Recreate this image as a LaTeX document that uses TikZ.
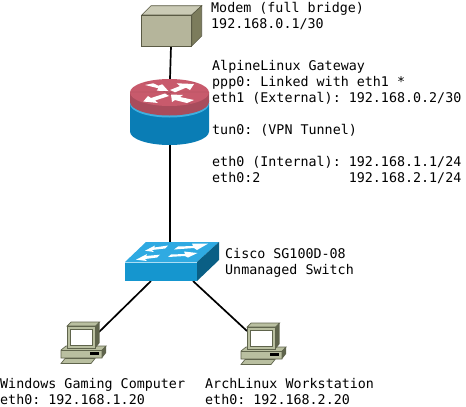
\documentclass[tikz,border=0pt]{standalone}
\usepackage{fontspec}
\setmonofont{DejaVu Sans Mono}
\usetikzlibrary{calc}
\definecolor{mfront}{HTML}{B5B59B}
\definecolor{mtop}{HTML}{CACAB5}
\definecolor{mside}{HTML}{7C7C5C}
\definecolor{medge}{HTML}{5A5A44}
\definecolor{rtop}{HTML}{C85A6C}
\definecolor{rside}{HTML}{A84C5C}
\definecolor{rblue}{HTML}{0A7DB5}
\definecolor{rlight}{HTML}{3FB0E0}
\definecolor{sfront}{HTML}{1596CF}
\definecolor{stop}{HTML}{2FAAE2}
\definecolor{sside}{HTML}{0A5F85}
\definecolor{pcbody}{HTML}{B9BFA0}
\definecolor{pcdark}{HTML}{5F644C}
\tikzset{
 lbl/.style={inner sep=0pt,anchor=north west,align=left,font=\ttfamily\fontsize{13.35}{16}\selectfont},
 link/.style={line width=1.7pt,black},
 anchorbox/.style={inner sep=0pt,minimum width=#1},
 pcline/.style={draw=pcdark,line width=.7pt},
 pc/.pic={
  \fill[pcbody,pcline] (61,350) -- (66,346) -- (106,346) -- (102,350) -- (102,358) -- (61,358) -- cycle;
  \fill[pcdark] (102,350) -- (106,346) -- (106,353) -- (102,358) -- cycle;
  \draw[pcline] (61,350) -- (102,350);
  \fill[pcbody,pcline] (65,358.5) -- (95,358.5) -- (91,363.5) -- (61,363.5) -- cycle;
  \fill[black] (90,352) rectangle (99,354.5);
  \fill[pcbody,pcline] (67,326) -- (71,322) -- (99.5,322) -- (95.5,326) -- cycle;
  \fill[pcdark] (95.5,326) -- (99.5,322) -- (99.5,343) -- (95.5,348) -- cycle;
  \fill[pcbody,pcline] (67,326) rectangle (95.5,348);
  \fill[white,pcline] (70.5,329) rectangle (92.5,345);
 }
}
\begin{document}
\begin{tikzpicture}[x=1pt,y=-1pt]
\useasboundingbox (0,0) rectangle (466,407);
\node[anchorbox=50pt,minimum height=31pt] (modem) at (166.7,30.5) {};
\node[anchorbox=79pt,minimum height=66pt] (router) at (170,112) {};
\node[anchorbox=72pt,minimum height=19pt] (switch) at (161,271.5) {};
\coordinate (swL) at (151,281);
\coordinate (swR) at (193,281);
\coordinate (pcA) at (99,332);
\coordinate (pcB) at (247,331);
\coordinate (swT) at (170,242);
\draw[link] (modem.south -| 171,0) -- (router.north -| 170,0);
\draw[link] (router.south) -- (swT);
\draw[link] (swL) -- (pcA);
\draw[link] (swR) -- (pcB);
% modem
\fill[mtop,draw=medge,line width=.6pt] (141.7,15) -- (151,5.7) -- (201.7,5.7) -- (191.7,15) -- cycle;
\fill[mside,draw=medge,line width=.6pt] (191.7,15) -- (201.7,5.7) -- (201.7,36) -- (191.7,46) -- cycle;
\fill[mfront,draw=medge,line width=.6pt] (141.7,15) rectangle (191.7,46);
% router
\fill[rblue] (130,103) -- (130,131.5) arc[start angle=180,end angle=0,x radius=39.5,y radius=13.5] -- (209,103) -- cycle;
\fill[rlight] (130,100) -- (130,104) arc[start angle=180,end angle=0,x radius=39.5,y radius=13.5] -- (209,100) -- cycle;
\fill[rside] (130,92) -- (130,102) arc[start angle=180,end angle=0,x radius=39.5,y radius=13.5] -- (209,92) -- cycle;
\fill[rtop] (169.5,92.5) ellipse[x radius=39.5,y radius=13.5];
\begin{scope}
\clip (169.5,92.5) ellipse[x radius=39.5,y radius=13.5];
\draw[rside,line width=.4pt] (130,92)--(209,92) (145,82)--(190,104) (145,104)--(195,82);
\end{scope}
\fill[white] (145,85) -- (153.3,83.3) -- (158.3,85.7) -- (162.3,84.3) -- (168.3,91) -- (156.7,90.7) -- (158.3,88.3) -- cycle;
\fill[white] (170,90) -- (180,86) -- (176.7,83.3) -- (194,84) -- (190,90) -- (186,87.7) -- (175,92.3) -- cycle;
\fill[white] (143.3,101.5) -- (148,96) -- (151,98) -- (165,93.5) -- (169,96) -- (155,100.5) -- (158,103) -- cycle;
\fill[white] (171,94.5) -- (183,95) -- (180,97) -- (194,100) -- (187,103) -- (175,100) -- (172,102) -- cycle;
% switch
\fill[stop] (125,262) -- (146,242) -- (219,242) -- (197,262) -- cycle;
\fill[sside] (197,262) -- (219,242) -- (219,260) -- (197,281) -- cycle;
\fill[sfront] (125,262) rectangle (197,281);
\draw[white!60!stop,line width=.7pt] (125,262) -- (197,262);
\fill[white] (145,250.7) -- (155,245.5) -- (154,247.5) -- (168,245.5) -- (165,248.5) -- (152,250) -- (154,252) -- cycle;
\fill[white] (174,249.5) -- (178,246.5) -- (193,246) -- (192,243.5) -- (208,243.7) -- (197,250) -- (194,248) -- cycle;
\fill[white] (136,259.7) -- (147,254) -- (146,256) -- (160,254.7) -- (157,257.5) -- (145,259) -- (147,261) -- cycle;
\fill[white] (168,257) -- (171,254.5) -- (185,254) -- (184,251.5) -- (197.5,253) -- (188,257.5) -- (185,256) -- cycle;
% PCs
\pic at (0,0) {pc};
\pic at (180,1) {pc};
% labels
\node[lbl] (t1) at (211,2) {Modem (full bridge)\\192.168.0.1/30};
\node[lbl] (t2) at (212,60) {AlpineLinux Gateway\\ppp0: Linked with eth1 *\\eth1 (External): 192.168.0.2/30\\[16pt]tun0: (VPN Tunnel)\\[16pt]eth0 (Internal): 192.168.1.1/24\\eth0:2{\ \ \ \ \ \ \ \ \ \ \ }192.168.2.1/24};
\node[lbl] (t3) at (225,248) {Cisco SG100D-08\\Unmanaged Switch};
\node[lbl] (t4) at (0,378.5) {Windows Gaming Computer\\eth0: 192.168.1.20};
\node[lbl] (t5) at (205,378.5) {ArchLinux Workstation\\eth0: 192.168.2.20};
\end{tikzpicture}
\end{document}
